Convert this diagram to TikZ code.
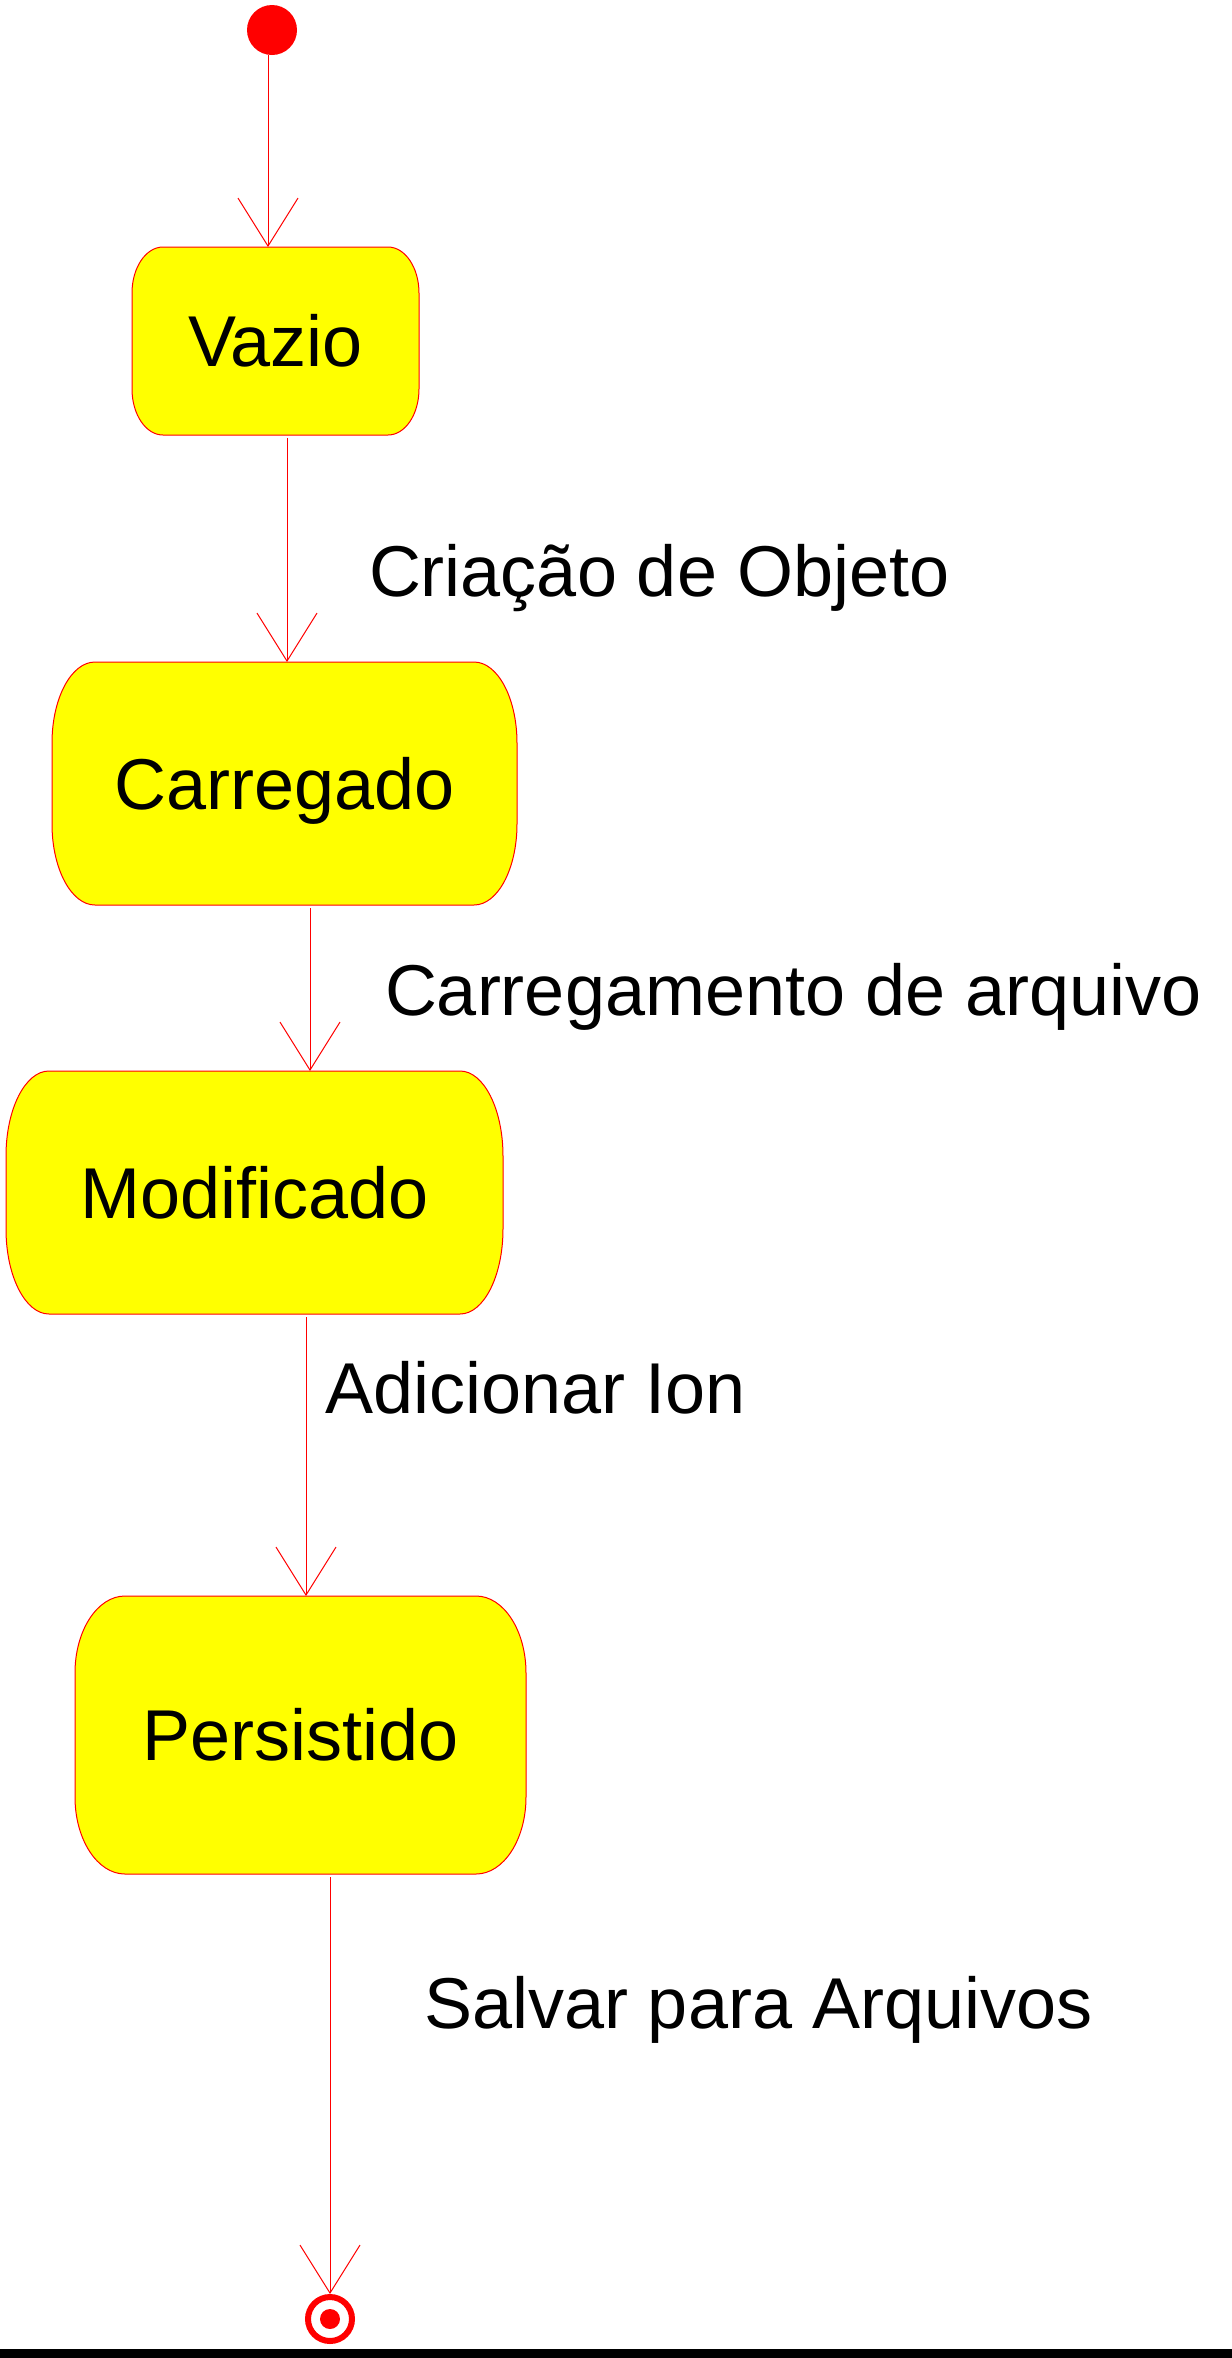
\documentclass[tikz,border=0pt]{standalone}
\usepackage{fontspec}
\setmainfont{Liberation Sans}
\usetikzlibrary{arrows.meta}
\pgfdeclarelayer{background}
\pgfsetlayers{background,main}
\definecolor{stateyellow}{RGB}{255,255,0}
\definecolor{umlred}{RGB}{255,0,0}
\tikzset{
  big/.style={font=\fontsize{36pt}{40pt}\selectfont},
  state/.style={big, rectangle, inner sep=0pt, outer sep=0pt, align=center,
                text height=25.8pt, text depth=0pt},
  stateline/.style={draw=umlred, fill=stateyellow, line width=0.5pt},
  trans/.style={draw=umlred, line width=0.5pt, shorten <=1.5pt,
                -{Straight Barb[length=24pt,width=30pt]}},
  lbl/.style={big, anchor=base west, inner sep=0pt, outer sep=0pt},
  initstate/.style={circle, fill=umlred, draw=none, minimum size=25pt, inner sep=0pt, outer sep=0pt},
  finalstate/.style={circle, draw=umlred, line width=3pt, fill=white, minimum size=22pt, inner sep=0pt,
                path picture={\fill[umlred] (path picture bounding box.center) circle (5pt);}}
}
% #1 node name, #2 x radius, #3 y radius
\newcommand\stateoutline[3]{%
  \begin{pgfonlayer}{background}
  \path[stateline] ([xshift=#2]#1.north west) -- ([xshift=-#2]#1.north east)
    arc[start angle=90, end angle=0, x radius=#2, y radius=#3]
    -- ([yshift=#3]#1.south east)
    arc[start angle=0, end angle=-90, x radius=#2, y radius=#3]
    -- ([xshift=#2]#1.south west)
    arc[start angle=270, end angle=180, x radius=#2, y radius=#3]
    -- ([yshift=-#3]#1.north west)
    arc[start angle=180, end angle=90, x radius=#2, y radius=#3]
    -- cycle;
  \end{pgfonlayer}%
}
\begin{document}
\begin{tikzpicture}[x=0.5pt, y=0.5pt]
\useasboundingbox (0,0) rectangle (1232,-2358);

% states
\node[initstate] (init) at (272,-30) {};
\node[state, minimum width=143.5pt, minimum height=94pt] (vazio) at (275.5,-341) {Vazio};
\node[state, minimum width=232.5pt, minimum height=121.5pt] (carregado) at (284.5,-783.5) {Carregado};
\node[state, minimum width=248.5pt, minimum height=121.5pt] (modificado) at (254.5,-1192.5) {Modificado};
\node[state, minimum width=225.5pt, minimum height=139pt] (persistido) at (300.5,-1735) {Persistido};
\node[finalstate] (final) at (330,-2319) {};

\stateoutline{vazio}{15.5pt}{23pt}
\stateoutline{carregado}{21.5pt}{40.5pt}
\stateoutline{modificado}{21.5pt}{42.5pt}
\stateoutline{persistido}{25pt}{38.5pt}

% connector columns
\coordinate (c0) at (268,0);
\coordinate (c1) at (287,0);
\coordinate (c2) at (310,0);
\coordinate (c3) at (306,0);
\coordinate (c4) at (330,0);

\draw[trans, shorten <=0pt] (init.south -| c0) -- (vazio.north -| c0);
\draw[trans] (vazio.south -| c1) -- (carregado.north -| c1);
\draw[trans] (carregado.south -| c2) -- (modificado.north -| c2);
\draw[trans] (modificado.south -| c3) -- (persistido.north -| c3);
\draw[trans] (persistido.south -| c4) -- (final.north);

% transition labels
\node[lbl] (l1) at (369,-596) {Criação de Objeto};
\node[lbl] (l2) at (385,-1015) {Carregamento de arquivo};
\node[lbl] (l3) at (325,-1413) {Adicionar Ion};
\node[lbl] (l4) at (424,-2028) {Salvar para Arquivos};

% bottom bar
\fill[black] (0,-2349) rectangle (1232,-2358);
\end{tikzpicture}
\end{document}
